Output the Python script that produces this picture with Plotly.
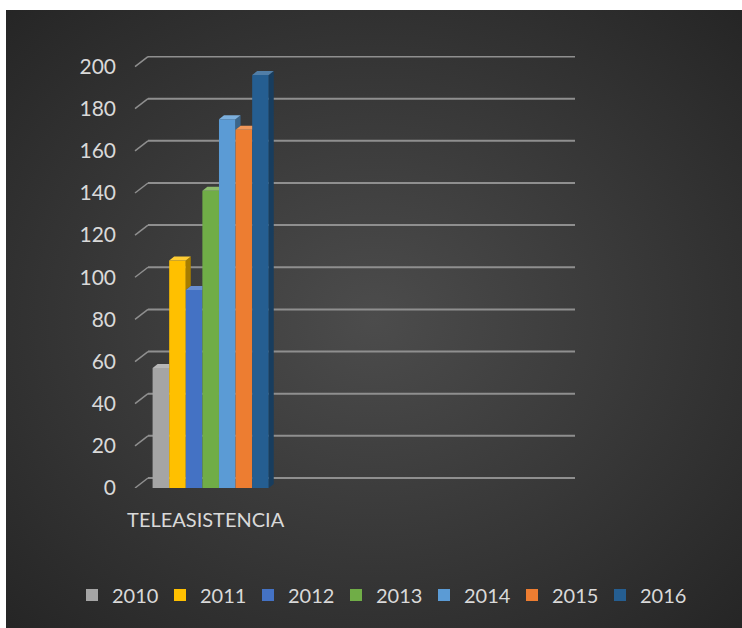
import base64
import plotly.graph_objects as go

# Teleasistencia users per year (3D clustered column look, dark theme)
category = "TELEASISTENCIA"
years = ["2010", "2011", "2012", "2013", "2014", "2015", "2016"]
values = [57, 108, 94, 141, 175, 170, 196]
colors = ["#a5a5a5", "#ffc000", "#4472c4", "#70ad47", "#5b9bd5", "#ed7d31", "#255e91"]
y_ticks = list(range(0, 201, 20))

# geometry (pixels)
W, H = 742, 628
L, R, T, B = 135, 0, 56, 140
plot_w, plot_h = W - L - R, H - T - B
px_x = 176
x0 = -0.43
x_range = [x0, x0 + plot_w / px_x]
y_range = [0, 205]
bargap = 0.34
px_y = plot_h / (y_range[1] - y_range[0])

side_dx = 5 / px_x
side_dy = 4 / px_y
grid_dx = 13 / plot_w
grid_end = (575 - L) / plot_w
grid_dy = 10 / px_y
txt = "#d9d9d9"
font = "Lato, 'Open Sans', sans-serif"


def mix(hex_color, other, t):
    a = [int(hex_color[i:i + 2], 16) for i in (1, 3, 5)]
    b = [int(other[i:i + 2], 16) for i in (1, 3, 5)]
    c = [round(a[k] * (1 - t) + b[k] * t) for k in range(3)]
    return "#%02x%02x%02x" % tuple(c)


fig = go.Figure()

# front faces
for yr, v, c in zip(years, values, colors):
    fig.add_trace(go.Bar(
        name=yr, x=[category], y=[v],
        marker=dict(color=c, line=dict(width=0)),
        hoverinfo="name+y",
    ))

# top and side faces, derived from the bar positions
n = len(values)
group_w = 1 - bargap
bw = group_w / n
for i, (v, c) in enumerate(zip(values, colors)):
    xl = -group_w / 2 + i * bw
    xr = xl + bw
    nxt = values[i + 1] if i + 1 < n else 0
    if v > nxt:
        lo = nxt + (side_dy if i + 1 < n else 0)
        fig.add_trace(go.Scatter(
            x=[xr, xr + side_dx, xr + side_dx, xr, xr],
            y=[max(lo - side_dy, 0), max(lo, side_dy), v + side_dy, v, max(lo - side_dy, 0)],
            xaxis="x2", fill="toself", mode="lines", line=dict(width=0),
            fillcolor=mix(c, "#000000", 0.35), showlegend=False, hoverinfo="skip",
        ))
        tx = [xl, xr, xr + side_dx, xl + side_dx, xl]
        ty = [v, v, v + side_dy, v + side_dy, v]
    else:
        tx = [xl, xr, xr, xl + side_dx, xl]
        ty = [v, v, v + side_dy, v + side_dy, v]
    fig.add_trace(go.Scatter(
        x=tx, y=ty, xaxis="x2", fill="toself", mode="lines", line=dict(width=0),
        fillcolor=mix(c, "#ffffff", 0.2), showlegend=False, hoverinfo="skip",
    ))

# skewed gridlines
shapes = []
for v in y_ticks:
    shapes.append(dict(type="line", xref="paper", yref="y", layer="below",
                       x0=0, y0=v, x1=grid_dx, y1=v + grid_dy,
                       line=dict(color="#8f8f8f", width=1.5)))
    shapes.append(dict(type="line", xref="paper", yref="y", layer="below",
                       x0=grid_dx, y0=v + grid_dy, x1=grid_end, y1=v + grid_dy,
                       line=dict(color="#8f8f8f", width=2)))

# radial gradient background
svg = (
    '<svg xmlns="http://www.w3.org/2000/svg" width="736" height="618">'
    '<defs><radialGradient id="g" cx="0.5" cy="0.5" r="0.75">'
    '<stop offset="0" stop-color="#4c4c4c"/><stop offset="1" stop-color="#232323"/>'
    '</radialGradient></defs><rect width="736" height="618" fill="url(#g)"/></svg>'
)
bg = "data:image/svg+xml;base64," + base64.b64encode(svg.encode()).decode()
bx0, by0 = 6, 10
images = [dict(
    source=bg, xref="paper", yref="paper", layer="below", sizing="stretch",
    x=(bx0 - L) / plot_w, y=(H - B - by0) / plot_h,
    sizex=(W - bx0) / plot_w, sizey=(H - by0) / plot_h,
    xanchor="left", yanchor="top",
)]

fig.update_layout(
    width=W, height=H, autosize=False,
    margin=dict(l=L, r=R, t=T, b=B),
    paper_bgcolor="#ffffff", plot_bgcolor="rgba(0,0,0,0)",
    barmode="group", bargap=bargap, bargroupgap=0,
    font=dict(family=font, color=txt, size=20),
    shapes=shapes, images=images,
    showlegend=True,
    legend=dict(orientation="h", x=(72 - L) / plot_w, xanchor="left",
                y=(H - B - 595) / plot_h, yanchor="middle",
                font=dict(size=20, color=txt), bgcolor="rgba(0,0,0,0)",
                entrywidth=43, entrywidthmode="pixels",
                traceorder="normal"),
    xaxis=dict(range=x_range, showgrid=False, zeroline=False, showline=False,
               ticks="", tickfont=dict(size=20, color=txt), ticklabelstandoff=18,
               ticklabelshift=-5, automargin=False),
    xaxis2=dict(range=x_range, overlaying="x", visible=False),
    yaxis=dict(range=y_range, tickvals=y_ticks, showgrid=False, zeroline=False,
               showline=False, ticks="", ticklabelstandoff=18, automargin=False,
               tickfont=dict(size=21, color=txt)),
)

fig.write_html("out.html", post_script="document.body.style.margin='0';",
               config={"displayModeBar": False, "responsive": False})
